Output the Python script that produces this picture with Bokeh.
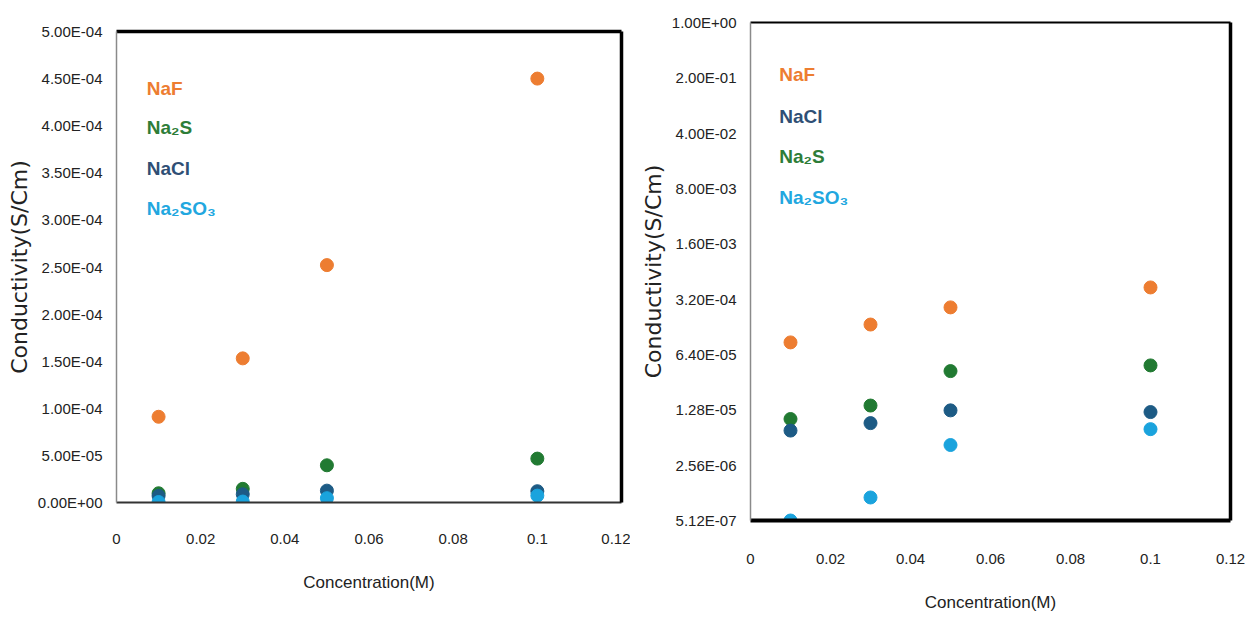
from bokeh.plotting import figure
from bokeh.layouts import row
from bokeh.models import Range1d, FixedTicker, Label, LinearAxis
from bokeh.embed import file_html
from bokeh.resources import INLINE

# ---------------- data ----------------
conc = [0.01, 0.03, 0.05, 0.1]
naf = [9.1e-5, 1.53e-4, 2.52e-4, 4.5e-4]
na2s = [9.8e-6, 1.45e-5, 3.95e-5, 4.66e-5]
nacl = [7.0e-6, 8.7e-6, 1.26e-5, 1.2e-5]
na2so3 = [5.12e-7, 1.0e-6, 4.6e-6, 7.3e-6]

series_names = ["NaF", "Na₂S", "NaCl", "Na₂SO₃"]
series_vals = [naf, na2s, nacl, na2so3]
series_colors = ["#ED7D31", "#217A32", "#1D5B85", "#1AA3DD"]
label_colors = ["#ED7D31", "#2E7D38", "#2F4F75", "#22A7DF"]

x_ticks = [0, 0.02, 0.04, 0.06, 0.08, 0.1, 0.12]
x_tick_labels = ["0", "0.02", "0.04", "0.06", "0.08", "0.1", "0.12"]

lin_ticks = [0, 5e-5, 1e-4, 1.5e-4, 2e-4, 2.5e-4, 3e-4, 3.5e-4, 4e-4, 4.5e-4, 5e-4]
lin_tick_labels = ["0.00E+00", "5.00E-05", "1.00E-04", "1.50E-04", "2.00E-04",
                   "2.50E-04", "3.00E-04", "3.50E-04", "4.00E-04", "4.50E-04", "5.00E-04"]

log_ticks = [5.12e-7, 2.56e-6, 1.28e-5, 6.4e-5, 3.2e-4, 1.6e-3, 8e-3, 4e-2, 2e-1, 1.0]
log_tick_labels = ["5.12E-07", "2.56E-06", "1.28E-05", "6.40E-05", "3.20E-04",
                   "1.60E-03", "8.00E-03", "4.00E-02", "2.00E-01", "1.00E+00"]

# legend-like label positions (data units)
left_label_order = ["NaF", "Na₂S", "NaCl", "Na₂SO₃"]
left_label_y = [4.39e-4, 3.98e-4, 3.55e-4, 3.12e-4]
right_label_order = ["NaF", "NaCl", "Na₂S", "Na₂SO₃"]
right_label_y = [0.22, 0.065, 0.0202, 0.0061]
label_x = 0.0072

TICK_FONT = "Liberation Sans"
TITLE_FONT = "DejaVu Sans"


def style(p, ticks, labels):
    p.xaxis.ticker = FixedTicker(ticks=x_ticks)
    p.xaxis.major_label_overrides = {t: l for t, l in zip(x_ticks, x_tick_labels)}
    p.yaxis.ticker = FixedTicker(ticks=ticks)
    p.yaxis.major_label_overrides = {t: l for t, l in zip(ticks, labels)}
    for ax in (p.xaxis, p.yaxis):
        ax.major_tick_line_color = None
        ax.minor_tick_line_color = None
        ax.major_tick_out = 0
        ax.major_tick_in = 0
        ax.minor_tick_out = 0
        ax.minor_tick_in = 0
        ax.major_label_text_font = TICK_FONT
        ax.major_label_text_font_size = "15px"
        ax.major_label_text_color = "#222222"
        ax.axis_label_text_font_style = "normal"
        ax.axis_label_text_color = "#222222"
    p.xaxis.axis_label = "Concentration(M)"
    p.xaxis.axis_label_text_font = TICK_FONT
    p.xaxis.axis_label_text_font_size = "17px"
    p.xaxis.axis_label_standoff = 26
    p.yaxis.axis_label = "Conductivity(S/Cm)"
    p.yaxis.axis_label_text_font = TITLE_FONT
    p.yaxis.axis_label_text_font_size = "22px"
    p.yaxis.major_label_standoff = 14
    p.yaxis.axis_label_standoff = 3
    p.yaxis.axis_line_color = "#8a8a8a"
    p.yaxis.axis_line_width = 1.5
    p.xgrid.visible = False
    p.ygrid.visible = False
    p.outline_line_color = None
    p.background_fill_color = "white"
    p.border_fill_color = "white"


def border_axis(p, side, width):
    ax = LinearAxis(ticker=FixedTicker(ticks=[]))
    ax.major_tick_line_color = None
    ax.minor_tick_line_color = None
    ax.major_tick_out = 0
    ax.major_tick_in = 0
    ax.minor_tick_out = 0
    ax.minor_tick_in = 0
    ax.major_label_standoff = 0
    ax.axis_label_standoff = 0
    ax.axis_line_color = "black"
    ax.axis_line_width = width
    p.add_layout(ax, side)


# ---------------- left (linear) ----------------
p1 = figure(frame_width=505, frame_height=471, x_range=Range1d(0, 0.12),
            y_range=Range1d(0, 5e-4), output_backend="svg", toolbar_location=None,
            min_border_left=116, min_border_top=31, min_border_right=9, min_border_bottom=98)
style(p1, lin_ticks, lin_tick_labels)
p1.xaxis.axis_line_color = "#333333"
p1.xaxis.axis_line_width = 2
p1.xaxis.major_label_standoff = 31
for vals, c in zip(series_vals, series_colors):
    p1.scatter(conc, vals, size=13, fill_color=c, line_color=c)
border_axis(p1, "above", 3.5)
border_axis(p1, "right", 3.5)
for name, yv in zip(left_label_order, left_label_y):
    c = label_colors[series_names.index(name)]
    p1.add_layout(Label(x=label_x, y=yv, text=name, text_color=c, text_font=TICK_FONT,
                        text_font_style="bold", text_font_size="19px",
                        text_baseline="middle"))

# ---------------- right (log) ----------------
p2 = figure(frame_width=480, frame_height=498, x_range=Range1d(0, 0.12),
            y_range=Range1d(5.12e-7, 1.0), y_axis_type="log",
            output_backend="svg", toolbar_location=None,
            min_border_left=120, min_border_top=31, min_border_right=19, min_border_bottom=98)
p2.margin = (-9, 0, 0, 0)
style(p2, log_ticks, log_tick_labels)
p2.xaxis.axis_line_color = "black"
p2.xaxis.axis_line_width = 4
p2.xaxis.major_label_standoff = 33
for vals, c in zip(series_vals, series_colors):
    p2.scatter(conc, vals, size=13, fill_color=c, line_color=c)
border_axis(p2, "above", 2)
border_axis(p2, "right", 3.5)
for name, yv in zip(right_label_order, right_label_y):
    c = label_colors[series_names.index(name)]
    p2.add_layout(Label(x=label_x, y=yv, text=name, text_color=c, text_font=TICK_FONT,
                        text_font_style="bold", text_font_size="19px",
                        text_baseline="middle"))

layout = row(p1, p2)
open("out.html", "w").write(file_html(layout, INLINE))
